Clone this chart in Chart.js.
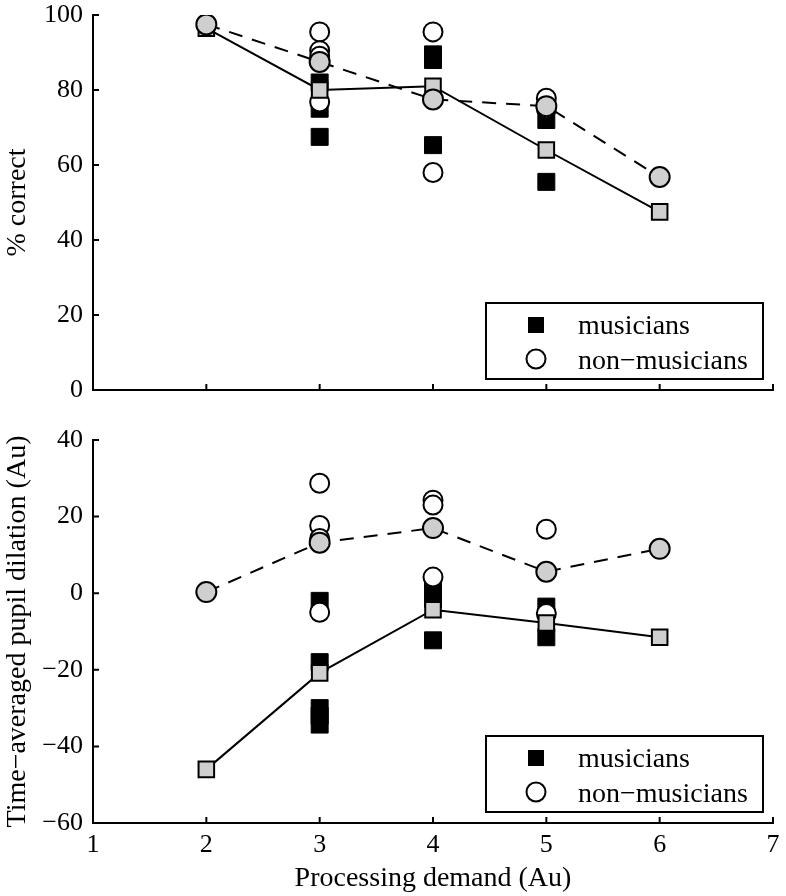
<!DOCTYPE html>
<html>
<head>
<meta charset="utf-8">
<script src="https://cdn.jsdelivr.net/npm/chart.js@4.4.1/dist/chart.umd.min.js"></script>
<style>
  body { margin: 0; background: #fff; }
  #wrap { position: relative; width: 786px; height: 896px; }
  canvas { position: absolute; left: 0; }
</style>
</head>
<body>
<div id="wrap">
  <canvas id="topChart" width="786" height="420" style="top:0"></canvas>
  <canvas id="botChart" width="786" height="476" style="top:420px"></canvas>
</div>
<script>
// processing demand levels for the group means
var demand = [2, 3, 4, 5, 6];

// % correct, group means
var accMusMean = [96.5, 80, 81, 64, 47.5];
var accNonMean = [97.5, 87.5, 77.5, 75.7, 56.8];
// % correct, single subjects
var accMusX = [3, 3, 3, 4, 4, 4, 5, 5];
var accMusY = [82, 75, 67.5, 89.5, 88, 65.3, 72, 55.5];
var accNonX = [3, 3, 3, 3, 4, 4, 5, 5];
var accNonY = [95.5, 90.5, 89, 76.8, 95.5, 58, 77.8, 75];

// pupil dilation, group means
var pupMusMean = [-46, -20.8, -4.3, -7.8, -11.5];
var pupNonMean = [0.3, 13.2, 17, 5.6, 11.6];
// pupil dilation, single subjects
var pupMusX = [3, 3, 3, 3, 3, 4, 4, 4, 5, 5];
var pupMusY = [-2, -18, -30, -32, -34.3, 1.5, -1.5, -12.3, -3.5, -11.5];
var pupNonX = [3, 3, 3, 3, 4, 4, 4, 5, 5];
var pupNonY = [28.7, 17.7, 14.3, -5, 24.3, 23, 4.2, 16.7, -5.3];

var xTicks = [1, 2, 3, 4, 5, 6, 7];
var accTicks = [0, 20, 40, 60, 80, 100];
var pupTicks = [-60, -40, -20, 0, 20, 40];

var serif = "'Liberation Serif', 'Times New Roman', serif";
var gray = '#cfcfcf';

function pts(xs, ys) {
  return xs.map(function (x, i) { return { x: x, y: ys[i] }; });
}

// inward tick marks like the original figure
var innerTicks = {
  id: 'innerTicks',
  afterDraw: function (chart) {
    var ctx = chart.ctx, a = chart.chartArea;
    var xs = chart.scales.x, ys = chart.scales.y;
    ctx.save();
    ctx.strokeStyle = '#000';
    ctx.lineWidth = 2;
    ctx.beginPath();
    xTicks.forEach(function (v) {
      var px = xs.getPixelForValue(v);
      ctx.moveTo(px, a.bottom);
      ctx.lineTo(px, a.bottom - 6);
    });
    ys.ticks.forEach(function (t) {
      var py = ys.getPixelForValue(t.value);
      ctx.moveTo(a.left, py);
      ctx.lineTo(a.left + 6, py);
    });
    ctx.stroke();
    ctx.restore();
  }
};

// boxed legend in the lower right corner
var boxLegend = {
  id: 'boxLegend',
  afterDraw: function (chart) {
    var ctx = chart.ctx, a = chart.chartArea;
    var w = 277, h = 76;
    var right = a.right - 10, bottom = a.bottom - 11;
    var left = right - w, top = bottom - h;
    ctx.save();
    ctx.fillStyle = '#fff';
    ctx.fillRect(left, top, w, h);
    ctx.strokeStyle = '#000';
    ctx.lineWidth = 2;
    ctx.strokeRect(left, top, w, h);
    // square marker
    ctx.fillStyle = '#000';
    ctx.fillRect(left + 50 - 8, top + 22 - 8, 16, 16);
    // circle marker
    ctx.beginPath();
    ctx.arc(left + 50, top + 56, 9.5, 0, Math.PI * 2);
    ctx.fillStyle = '#fff';
    ctx.fill();
    ctx.stroke();
    ctx.fillStyle = '#000';
    ctx.font = '28px ' + serif;
    ctx.textBaseline = 'alphabetic';
    ctx.fillText('musicians', left + 92, top + 31);
    ctx.fillText('non\u2212musicians', left + 92, top + 66);
    ctx.restore();
  }
};

function noPad(s) {
  s.paddingTop = 0;
  s.paddingBottom = 0;
  s.paddingLeft = 0;
  s.paddingRight = 0;
}

function makeChart(id, d, opt) {
  var ctx = document.getElementById(id).getContext('2d');
  return new Chart(ctx, {
    type: 'line',
    data: {
      datasets: [{
        label: 'non-musicians mean',
        data: pts(demand, d.nonMean),
        borderColor: '#000',
        borderWidth: 2,
        borderDash: [14, 10],
        pointStyle: 'circle',
        pointRadius: 10,
        pointBackgroundColor: gray,
        pointBorderColor: '#000',
        pointBorderWidth: 2,
        order: 0
      }, {
        label: 'musicians mean',
        data: pts(demand, d.musMean),
        borderColor: '#000',
        borderWidth: 2,
        pointStyle: 'rect',
        pointRadius: 11,
        pointBackgroundColor: gray,
        pointBorderColor: '#000',
        pointBorderWidth: 2,
        order: 1
      }, {
        label: 'non-musicians',
        data: pts(d.nonX, d.nonY),
        showLine: false,
        pointStyle: 'circle',
        pointRadius: 9.5,
        pointBackgroundColor: '#fff',
        pointBorderColor: '#000',
        pointBorderWidth: 2,
        order: 2
      }, {
        label: 'musicians',
        data: pts(d.musX, d.musY),
        showLine: false,
        pointStyle: 'rect',
        pointRadius: 12,
        pointBackgroundColor: '#000',
        pointBorderColor: '#000',
        pointBorderWidth: 1,
        order: 3
      }]
    },
    options: {
      responsive: false,
      animation: false,
      layout: { padding: { top: opt.padTop, right: 12, left: 0, bottom: 0 } },
      plugins: { legend: { display: false }, tooltip: { enabled: false } },
      scales: {
        x: {
          type: 'linear',
          min: 1, max: 7,
          afterBuildTicks: function (s) { s.ticks = xTicks.map(function (v) { return { value: v }; }); },
          afterFit: function (s) { s.height = opt.xHeight; noPad(s); },
          grid: { display: false, drawTicks: false },
          border: { color: '#000', width: 2 },
          ticks: {
            display: opt.showX,
            padding: 7,
            color: '#000',
            font: { family: serif, size: 26 }
          },
          title: {
            display: opt.showX,
            text: 'Processing demand (Au)',
            color: '#000',
            font: { family: serif, size: 28 },
            padding: { top: 0, bottom: 1 }
          }
        },
        y: {
          type: 'linear',
          min: d.ticks[0], max: d.ticks[d.ticks.length - 1],
          afterBuildTicks: function (s) { s.ticks = d.ticks.map(function (v) { return { value: v }; }); },
          afterFit: function (s) { s.width = 93; noPad(s); },
          grid: { display: false, drawTicks: false },
          border: { color: '#000', width: 2 },
          ticks: {
            padding: 10,
            color: '#000',
            font: { family: serif, size: 26 },
            callback: function (v) { return String(v).replace('-', '\u2212'); }
          },
          title: {
            display: true,
            text: d.yTitle,
            color: '#000',
            font: { family: serif, size: 28 },
            padding: { top: 1, bottom: 0 }
          }
        }
      }
    },
    plugins: [innerTicks, boxLegend]
  });
}

makeChart('topChart', {
  musMean: accMusMean, nonMean: accNonMean,
  musX: accMusX, musY: accMusY, nonX: accNonX, nonY: accNonY,
  ticks: accTicks, yTitle: '% correct'
}, { padTop: 15, xHeight: 30, showX: false });

makeChart('botChart', {
  musMean: pupMusMean, nonMean: pupNonMean,
  musX: pupMusX, musY: pupMusY, nonX: pupNonX, nonY: pupNonY,
  ticks: pupTicks, yTitle: 'Time\u2212averaged pupil dilation (Au)'
}, { padTop: 20, xHeight: 73, showX: true });
</script>
</body>
</html>
